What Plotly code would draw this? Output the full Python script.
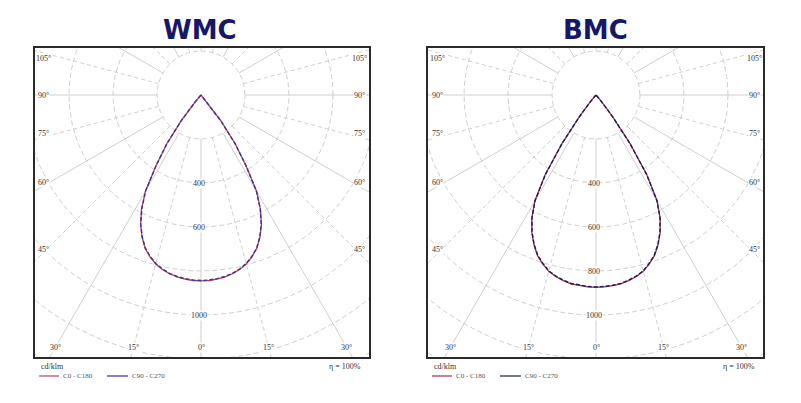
import numpy as np
import plotly.graph_objects as go

# ---------------- data ----------------
gamma = [0, 2.5, 5, 7.5, 10, 12.5, 15, 17.5, 20, 22.5, 25, 27.5, 30, 32.5, 35, 37.5, 40, 42.5, 45]
wmc_c0_c180 = [845, 844, 840, 834, 825, 812, 795, 771, 742, 700, 650, 585, 505, 380, 272, 150, 40, 8, 0]
wmc_c90_c270 = [843, 842, 838, 832, 823, 810, 793, 769, 740, 698, 648, 583, 503, 378, 270, 148, 38, 8, 0]
bmc_c0_c180 = [874, 873, 870, 866, 857, 845, 830, 805, 777, 737, 690, 632, 555, 430, 270, 125, 35, 8, 0]
bmc_c90_c270 = [872, 871, 868, 864, 855, 843, 828, 803, 775, 735, 688, 630, 553, 428, 268, 123, 33, 8, 0]

ring_values = [200, 400, 600, 800, 1000, 1200, 1400, 1600]
ray_angles = list(range(0, 360, 15))
edge_angle_labels = [105, 90, 75, 60, 45, 30, 15, 0]
wmc_ring_labels = [400, 600, 1000]
bmc_ring_labels = [400, 600, 800, 1000]
titles = ["WMC", "BMC"]
legend_names = ["C0 - C180", "C90 - C270"]
unit_text = "cd/klm"
eta_text = "η = 100%"

# ---------------- layout constants ----------------
W, H = 801, 403
PX = 0.22                 # pixels per cd
BOX_TOP, BOX_BOT = 48, 357
CY = 95
panels = [
    dict(title=titles[0], cx=201, x0=35, x1=369, c0=wmc_c0_c180, c90=wmc_c90_c270,
         rlabels=wmc_ring_labels, red="#c0405a", blue="#3a3590"),
    dict(title=titles[1], cx=596, x0=428, x1=763, c0=bmc_c0_c180, c90=bmc_c90_c270,
         rlabels=bmc_ring_labels, red="#a03048", blue="#1c1c55"),
]
GRID = "#cfcfcf"
LABEL_FONT = dict(family="Liberation Serif", size=8, color="#333333")

fig = go.Figure()
annotations = []
shapes = []

g = np.radians(np.array(gamma, dtype=float))

for i, p in enumerate(panels):
    n = "" if i == 0 else str(i + 1)
    xa, ya = "x" + n, "y" + n
    # rings
    t = np.radians(np.arange(0, 361, 2))
    for r in ring_values:
        fig.add_trace(go.Scatter(x=r * np.cos(t), y=r * np.sin(t), mode="lines",
                                 line=dict(color=GRID, width=1, dash="5px,3px"),
                                 xaxis=xa, yaxis=ya, hoverinfo="skip", showlegend=False))
    # rays
    for a in ray_angles:
        ar = np.radians(a)
        rr = np.array([200, 2500])
        fig.add_trace(go.Scatter(x=rr * np.sin(ar), y=-rr * np.cos(ar), mode="lines",
                                 line=dict(color=GRID, width=1,
                                           dash="solid" if a % 30 == 0 else "4px,3px"),
                                 xaxis=xa, yaxis=ya, hoverinfo="skip", showlegend=False))
    # curves
    for vals, col, dash, w in [(p["c0"], p["red"], "solid", 1.3), (p["c90"], p["blue"], "4px,2px", 1.4)]:
        I = np.array(vals, dtype=float)
        xs = np.concatenate([-(I * np.sin(g))[::-1], (I * np.sin(g))[1:]])
        ys = np.concatenate([-(I * np.cos(g))[::-1], -(I * np.cos(g))[1:]])
        fig.add_trace(go.Scatter(x=xs, y=ys, mode="lines", line=dict(color=col, width=w, dash=dash),
                                 xaxis=xa, yaxis=ya, hoverinfo="skip", showlegend=False))

    # axes (the box)
    ax = dict(domain=[p["x0"] / W, p["x1"] / W],
              range=[(p["x0"] - p["cx"]) / PX, (p["x1"] - p["cx"]) / PX],
              showgrid=False, zeroline=False, showticklabels=False, ticks="",
              showline=True, mirror=True, linecolor="#2a2a2a", linewidth=1.5, fixedrange=True)
    ay = dict(domain=[1 - BOX_BOT / H, 1 - BOX_TOP / H],
              range=[-(BOX_BOT - CY) / PX, (CY - BOX_TOP) / PX],
              showgrid=False, zeroline=False, showticklabels=False, ticks="",
              showline=True, mirror=True, linecolor="#2a2a2a", linewidth=1.5, fixedrange=True)
    fig.update_layout(**{"xaxis" + n: dict(ax, anchor=ya), "yaxis" + n: dict(ay, anchor=xa)})

    # angle labels on the box edges
    half_w = (p["x1"] - p["x0"]) / 2 - 9
    max_dy = BOX_BOT - CY - 10
    for a in edge_angle_labels:
        for side in ([-1, 1] if a != 0 else [1]):
            ar = np.radians(a)
            dx, dy = side * np.sin(ar), np.cos(ar)   # dy positive = downward
            ts = []
            if abs(dx) > 1e-9:
                ts.append(half_w / abs(dx))
            if dy > 1e-9:
                ts.append(max_dy / dy)
            tt = min(ts)
            px_x, px_y = dx * tt, dy * tt
            px_y = max(px_y, -(CY - BOX_TOP) + 10)
            if 30 < a < 90:
                px_y -= 4
            annotations.append(dict(x=px_x / PX, y=-px_y / PX, xref=xa, yref=ya,
                                    text=f"{a}°", showarrow=False, font=LABEL_FONT,
                                    bgcolor="white", borderpad=0))
    # ring value labels
    for r in p["rlabels"]:
        annotations.append(dict(x=-2 / PX, y=-r, xref=xa, yref=ya, text=str(r),
                                showarrow=False, font=LABEL_FONT, bgcolor="white", borderpad=0))

    # title
    annotations.append(dict(x=(p["cx"] - 1) / W, y=1 - 30 / H, xref="paper", yref="paper",
                            text=f"<b>{p['title']}</b>", showarrow=False,
                            xanchor="center", yanchor="middle",
                            font=dict(family="DejaVu Sans", size=26, color="#17176a")))
    # unit + legend + eta
    lx = p["x0"] + 4
    annotations.append(dict(x=lx / W, y=1 - 366 / H, xref="paper", yref="paper", text=unit_text,
                            showarrow=False, xanchor="left", yanchor="middle",
                            font=dict(family="Liberation Serif", size=8, color="#333")))
    annotations.append(dict(x=(p["x1"] - 6) / W, y=1 - 366 / H, xref="paper", yref="paper", text=eta_text,
                            showarrow=False, xanchor="right", yanchor="middle",
                            font=dict(family="Liberation Serif", size=8, color="#333")))
    segs = [(lx, lx + 20, p["red"]), (lx + 68, lx + 89, p["blue"])]
    for k, (a0, a1, col) in enumerate(segs):
        shapes.append(dict(type="line", xref="paper", yref="paper", x0=a0 / W, x1=a1 / W,
                           y0=1 - 376 / H, y1=1 - 376 / H, line=dict(color=col, width=1.2)))
        annotations.append(dict(x=(a1 + 2) / W, y=1 - 376 / H, xref="paper", yref="paper",
                                text=legend_names[k], showarrow=False, xanchor="left", yanchor="middle",
                                font=dict(family="Liberation Serif", size=7, color="#555")))

fig.update_layout(width=W, height=H, margin=dict(l=0, r=0, t=0, b=0),
                  paper_bgcolor="white", plot_bgcolor="white", showlegend=False,
                  annotations=annotations, shapes=shapes)
fig.write_html("out.html", config={"displayModeBar": False},
               post_script="document.body.style.margin='0';document.body.style.padding='0';")
